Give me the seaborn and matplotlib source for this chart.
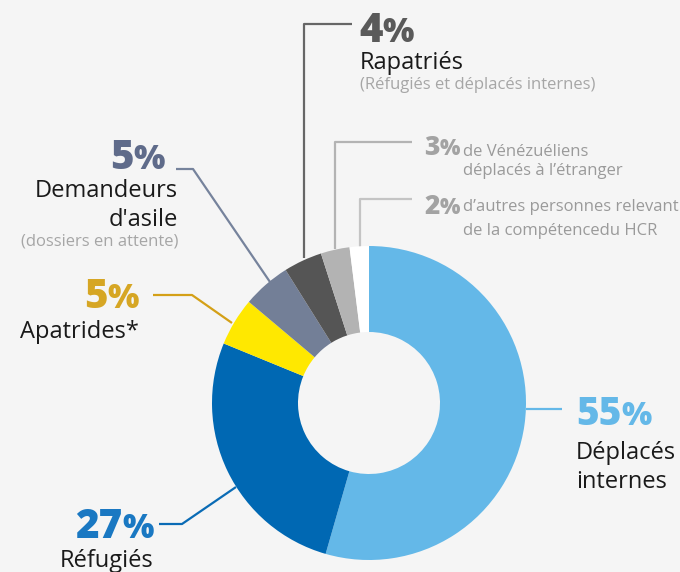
import matplotlib
matplotlib.use("Agg")
import matplotlib.pyplot as plt
import seaborn as sns

# ── data ──────────────────────────────────────────────────────────────────────
categories = ["Déplacés internes", "Réfugiés", "Apatrides*", "Demandeurs d'asile",
              "Rapatriés", "Vénézuéliens déplacés à l'étranger",
              "Autres personnes relevant de la compétence du HCR"]
shares = [55, 27, 5, 5, 4, 3, 2]
slice_colors = ["#64b8e8", "#0068b3", "#ffe800", "#737f97", "#555555", "#b3b3b3", "#ffffff"]
pct_colors = ["#64b8e8", "#1a78c2", "#d6a624", "#5f6b8a", "#5a5a5a", "#a3a3a3", "#a3a3a3"]
line_colors = ["#64b8e8", "#0a6bb5", "#d4a017", "#76839c", "#666666", "#b3b3b3", "#c4c4c4"]

# ── layout (pixel coords, y measured from the top) ───────────────────────────
W, H = 680, 572
BG = "#f5f5f5"
DARK, GREY = "#1a1a1a", "#a6a6a6"
CENTER, R_OUT, R_IN = (369, 403), 157, 71

layout = [
    dict(pct=(576, 425, "left", 28), leader=[(526, 409), (562, 409)],
         lines=[("Déplacés", 576, 459, 17, DARK, "left"),
                ("internes", 576, 488, 17, DARK, "left")]),
    dict(pct=(154, 538, "right", 29), leader=[(159, 524), (182, 524), (236, 487)],
         lines=[("Réfugiés", 154, 567, 17, DARK, "right")]),
    dict(pct=(139, 308, "right", 29), leader=[(153, 295), (192, 295), (232, 323)],
         lines=[("Apatrides*", 139, 338, 17, DARK, "right")]),
    dict(pct=(165, 169, "right", 29), leader=[(176, 169), (193, 169), (270, 282)],
         lines=[("Demandeurs", 178, 197, 17, DARK, "right"),
                ("d'asile", 178, 226, 17, DARK, "right"),
                ("(dossiers en attente)", 178, 246, 12, GREY, "right")]),
    dict(pct=(359, 42, "left", 29), leader=[(352, 24), (304, 24), (304, 258)],
         lines=[("Rapatriés", 360, 69, 17, DARK, "left"),
                ("(Réfugiés et déplacés internes)", 360, 89, 12, GREY, "left")]),
    dict(pct=(424, 155, "left", 19), leader=[(412, 142), (335, 142), (335, 249)],
         lines=[("de Vénézuéliens", 463, 156, 12, "#9a9a9a", "left"),
                ("déplacés à l’étranger", 463, 175, 12, "#9a9a9a", "left")]),
    dict(pct=(424, 214, "left", 19), leader=[(412, 199), (360, 199), (360, 247)],
         lines=[("d’autres personnes relevant", 463, 211, 12, "#9a9a9a", "left"),
                ("de la compétencedu HCR", 463, 235, 12, "#9a9a9a", "left")]),
]


def Y(py):
    return H - py


def pct_text(ax, x, y, value, color, size, ha):
    """Big bold number followed by a slightly smaller % sign."""
    r = ax.figure.canvas.get_renderer()
    num = ax.text(0, 0, str(value), fontsize=size, fontweight="heavy",
                  color=color, va="baseline")
    sign = ax.text(0, 0, "%", fontsize=size * 0.82, fontweight="heavy",
                   color=color, va="baseline")
    w_num = num.get_window_extent(r).width
    w_sign = sign.get_window_extent(r).width
    x0 = x if ha == "left" else x - w_num - w_sign
    num.set_position((x0, Y(y)))
    sign.set_position((x0 + w_num, Y(y)))


sns.set_theme(style="white", rc={"axes.facecolor": BG, "figure.facecolor": BG})
plt.rcParams["font.family"] = ["Open Sans", "DejaVu Sans"]

fig = plt.figure(figsize=(W / 100, H / 100), dpi=100)
ax = fig.add_axes([0, 0, 1, 1])

ax.pie(shares, colors=slice_colors, startangle=90, counterclock=False,
       radius=R_OUT, center=(CENTER[0], Y(CENTER[1])),
       wedgeprops=dict(width=R_OUT - R_IN, linewidth=0))

for item, value, pc, lc in zip(layout, shares, pct_colors, line_colors):
    xs = [p[0] for p in item["leader"]]
    ys = [Y(p[1]) for p in item["leader"]]
    ax.plot(xs, ys, color=lc, lw=1.6, solid_capstyle="butt", zorder=0)
    px, py, ha, size = item["pct"]
    pct_text(ax, px, py, value, pc, size, ha)
    for text, tx, ty, fs, col, tha in item["lines"]:
        ax.text(tx, Y(ty), text, fontsize=fs, color=col, ha=tha, va="baseline")

ax.set_xlim(0, W)
ax.set_ylim(0, H)
ax.set_aspect("auto")
ax.axis("off")

fig.savefig("out.png", dpi=100, facecolor=BG)
